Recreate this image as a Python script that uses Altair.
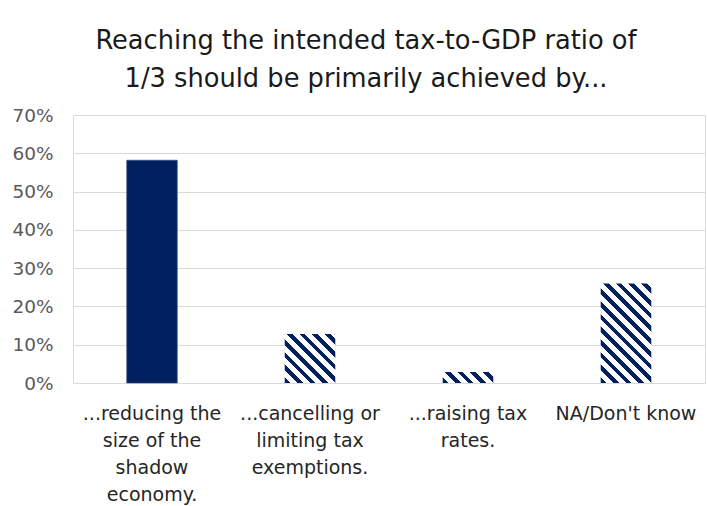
import altair as alt
import pandas as pd

# ---- data ----
categories = [
    "...reducing the|size of the|shadow|economy.",
    "...cancelling or|limiting tax|exemptions.",
    "...raising tax|rates.",
    "NA/Don't know",
]
values = [0.582, 0.128, 0.029, 0.260]
hatched = [False, True, True, True]
y_ticks = [0, 0.1, 0.2, 0.3, 0.4, 0.5, 0.6, 0.7]
title_lines = ["Reaching the intended tax-to-GDP ratio of",
               "1/3 should be primarily achieved by..."]

df = pd.DataFrame({"cat": categories, "val": values, "hatch": hatched})

# ---- layout / style ----
FONT = "DejaVu Sans"
NAVY = "#002060"
W, H = 632, 268
YMAX = 0.7
P_IN, P_OUT = 0.68, 0.34
step = W / (len(categories) - P_IN + 2 * P_OUT)
bar_w = step * (1 - P_IN)
HATCH_PERIOD = 12.7   # horizontal period of stripes in px
HATCH_FRAC = 0.45     # navy share of a period


def hatch_gradient(value):
    w = bar_w
    h = max(value / YMAX * H, 1.0)
    s = w * w + h * h
    x2 = w * (w + h) / s
    y2 = 1 - h * (w + h) / s
    per = HATCH_PERIOD / (w + h)
    stops = []
    k = 0
    t = 0.0
    while t < 1.0:
        a = min(t, 1.0)
        b = min(t + HATCH_FRAC * per, 1.0)
        c = min(t + per, 1.0)
        stops += [(a, NAVY), (b, NAVY), (b, "#ffffff"), (c, "#ffffff")]
        k += 1
        t = k * per
    return alt.LinearGradient(
        gradient="linear",
        stops=[alt.GradientStop(offset=o, color=col) for o, col in stops],
        x1=0, y1=1, x2=x2, y2=y2,
    )


x_enc = alt.X(
    "cat:N", sort=categories, title=None,
    scale=alt.Scale(paddingInner=P_IN, paddingOuter=P_OUT),
    axis=alt.Axis(
        labelExpr="split(datum.label, '|')", labelAngle=0, labelFont=FONT,
        labelFontSize=19, labelColor="#262626", labelLineHeight=27,
        labelBaseline="top", labelPadding=21, labelLimit=0, labelOverlap=False,
        domain=False, ticks=False, grid=False,
    ),
)
y_enc = alt.Y(
    "val:Q", title=None,
    scale=alt.Scale(domain=[0, YMAX], nice=False),
    axis=alt.Axis(
        values=y_ticks, format=".0%", labelFont=FONT, labelFontSize=18.5,
        labelColor="#595959", labelPadding=20, domain=False, ticks=False,
        grid=True, gridColor="#d9d9d9", gridWidth=1.2,
    ),
)

base = alt.Chart(df)
layers = [
    base.transform_filter(alt.datum.cat == categories[0])
    .mark_bar(fill=NAVY, stroke="#2f4f8f", strokeWidth=0.6)
    .encode(x=x_enc, y=y_enc)
]
for c, v, hh in zip(categories, values, hatched):
    if hh:
        layers.append(
            base.transform_filter(alt.datum.cat == c)
            .mark_bar(fill=hatch_gradient(v))
            .encode(x=x_enc, y=y_enc)
        )

chart = alt.layer(*layers).properties(
    width=W, height=H,
    title=alt.TitleParams(
        text=title_lines, font=FONT, fontSize=25.7, fontWeight="normal",
        color="#1a1a1a", lineHeight=38, anchor="middle", dx=-23, offset=13,
    ),
    autosize=alt.AutoSizeParams(type="none"),
    padding={"left": 73, "top": 115, "right": 2, "bottom": 123},
).configure_view(stroke=None).configure(background="white")

chart.save("out.html", embed_options={"renderer": "svg", "actions": False})
